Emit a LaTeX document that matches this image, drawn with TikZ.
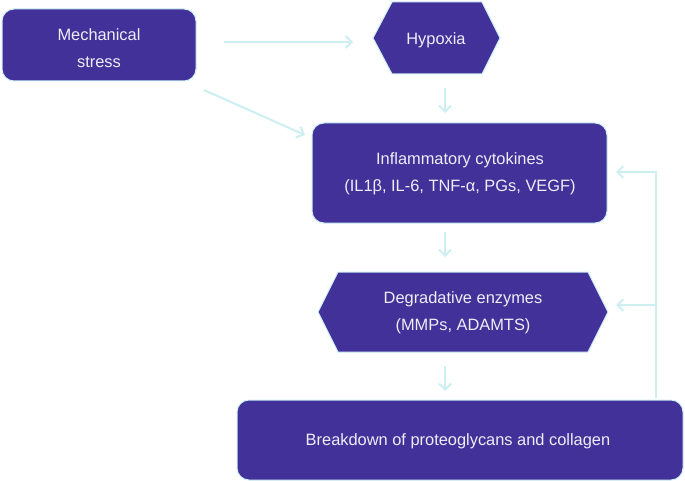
\documentclass[tikz,border=0pt]{standalone}
\usepackage{fontspec}
\setmainfont{Liberation Sans}
\usetikzlibrary{arrows.meta}
\definecolor{boxfill}{HTML}{43319A}
\definecolor{edge}{HTML}{CDEFF2}
\definecolor{txt}{HTML}{EEEEF6}
\begin{document}
\begin{tikzpicture}[x=1pt,y=-1pt,
  box/.style={fill=boxfill,draw=edge,line width=1pt,rounded corners=12pt},
  lbl/.style={text=txt,font=\fontsize{16.4}{27}\selectfont,align=center},
  arr/.style={draw=edge,line width=2pt,-{Straight Barb[length=6pt,width=12pt,line width=2pt]}},
  ln/.style={draw=edge,line width=2pt}]
\useasboundingbox (0,0) rectangle (685,481);
% Mechanical stress
\draw[box] (2,9) rectangle (196,81);
\node[lbl] (ms) at (99,48) {Mechanical\\stress};
% Hypoxia
\draw[fill=boxfill,draw=edge,line width=1pt] (373,38) -- (392,2) -- (482,2) -- (500,38) -- (482,74) -- (392,74) -- cycle;
\node[lbl] (hy) at (436,40) {Hypoxia};
% Inflammatory
\draw[box] (312,123) rectangle (607,223);
\node[lbl] (ic) at (460,174) {Inflammatory cytokines\\(IL1β, IL-6, TNF-α, PGs, VEGF)};
% Degradative
\draw[fill=boxfill,draw=edge,line width=1pt] (318,312) -- (338,272) -- (588,272) -- (608,312) -- (588,352) -- (338,352) -- cycle;
\node[lbl] (de) at (463,313) {Degradative enzymes\\(MMPs, ADAMTS)};
% Breakdown
\draw[box] (237,400) rectangle (683,480);
\node[lbl] (br) at (458,441) {Breakdown of proteoglycans and collagen};
% coordinates
\coordinate (a1) at (224,42); \coordinate (a2) at (353,42);
\coordinate (b1) at (204,90); \coordinate (b2) at (305,135);
\coordinate (c1) at (445,88); \coordinate (c2) at (445,113);
\coordinate (d1) at (445,232); \coordinate (d2) at (445,257);
\coordinate (e1) at (445,366); \coordinate (e2) at (445,391);
\coordinate (f0) at (656,398); \coordinate (f1) at (656,172); \coordinate (f2) at (616,172);
\coordinate (g1) at (656,305); \coordinate (g2) at (616,305);
\draw[arr] (a1) -- (a2);
\draw[arr] (b1) -- (b2);
\draw[arr] (c1) -- (c2);
\draw[arr] (d1) -- (d2);
\draw[arr] (e1) -- (e2);
\draw[arr] (f0) -- (f1) -- (f2);
\draw[arr] (g1) -- (g2);
\end{tikzpicture}
\end{document}
